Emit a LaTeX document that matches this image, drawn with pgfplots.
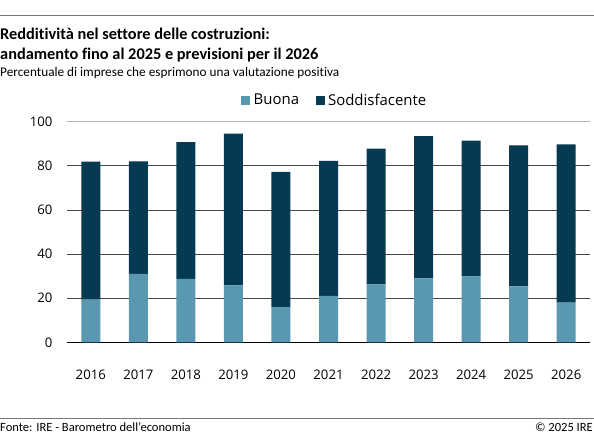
\documentclass[border=0pt]{standalone}
\usepackage{fontspec}
\setmainfont{Carlito}[Ligatures=NoCommon]
\newfontfamily\tickfont{Open Sans}
\usepackage{pgfplots}
\pgfplotsset{compat=1.18}

\definecolor{buona}{RGB}{90,151,176}
\definecolor{soddis}{RGB}{5,58,82}
\definecolor{rulegray}{RGB}{120,120,120}

\begin{document}
\begin{tikzpicture}[x=1bp,y=1bp]
  \useasboundingbox (0,0) rectangle (594,-438);

  % header
  \draw[rulegray, line width=1.2bp] (0,-15.5) -- (594,-15.5);
  \node[anchor=base west, inner sep=0, font=\fontsize{16.4}{18}\selectfont\bfseries] at (0,-40) {Redditività nel settore delle costruzioni:};
  \node[anchor=base west, inner sep=0, font=\fontsize{16.4}{18}\selectfont\bfseries] at (0,-59.5) {andamento fino al 2025 e previsioni per il 2026};
  \node[anchor=base west, inner sep=0, font=\fontsize{13.3}{15}\selectfont] at (0,-77) {Percentuale di imprese che esprimono una valutazione positiva};

  \begin{axis}[
    at={(67bp,-342.3bp)}, anchor=south west,
    scale only axis,
    width=523bp, height=220.6bp,
    ybar stacked,
    bar width=19bp,
    xmin=-0.5, xmax=10.5,
    ymin=0, ymax=100,
    xtick={0,...,10},
    xticklabels={2016,2017,2018,2019,2020,2021,2022,2023,2024,2025,2026},
    ytick={0,20,40,60,80},
    extra y ticks={100},
    extra y tick style={grid style={gray!60, line width=0.8bp}},
    ymajorgrids,
    grid style={black!72, line width=0.85bp},
    axis line style={draw=none},
    major tick length=0pt,
    clip=false,
    ticklabel style={font=\tickfont\fontsize{13.2}{15}\selectfont},
    /pgf/number format/assume math mode=true,
    xticklabel style={anchor=base, yshift=-37bp},
    yticklabel style={anchor=east, xshift=-11bp},
    legend columns=2,
    legend style={draw=none, fill=none, at={(axis description cs:0.327,1.098)}, anchor=west,
      font=\tickfont\fontsize{15}{17}\selectfont,
      nodes={inner xsep=3.5bp},
      /tikz/every even column/.append style={column sep=13bp}},
    legend image code/.code={\fill[#1] (0bp,-4.5bp) rectangle (9bp,4.5bp);},
  ]
    \addplot[fill=buona, draw=none] coordinates {
      (0,19.3) (1,31.0) (2,28.7) (3,25.8) (4,16.0) (5,21.1)
      (6,26.3) (7,29.0) (8,29.9) (9,25.4) (10,18.0)
    };
    \addlegendentry{Buona}
    \addplot[fill=soddis, draw=none] coordinates {
      (0,62.6) (1,51.0) (2,62.0) (3,68.8) (4,61.3) (5,61.1)
      (6,61.5) (7,64.5) (8,61.5) (9,63.9) (10,71.7)
    };
    \addlegendentry{Soddisfacente}
    \draw[black, line width=1.3bp] (rel axis cs:0,0) -- (rel axis cs:1,0);
  \end{axis}

  % footer
  \draw[rulegray, line width=1.2bp] (0,-418.3) -- (594,-418.3);
  \node[anchor=base west, inner sep=0, font=\fontsize{12.6}{15}\selectfont] at (0,-431.5) {Fonte: IRE - Barometro dell'economia};
  \node[anchor=base east, inner sep=0, font=\fontsize{12.6}{15}\selectfont] at (593,-431.5) {© 2025 IRE};
\end{tikzpicture}
\end{document}
